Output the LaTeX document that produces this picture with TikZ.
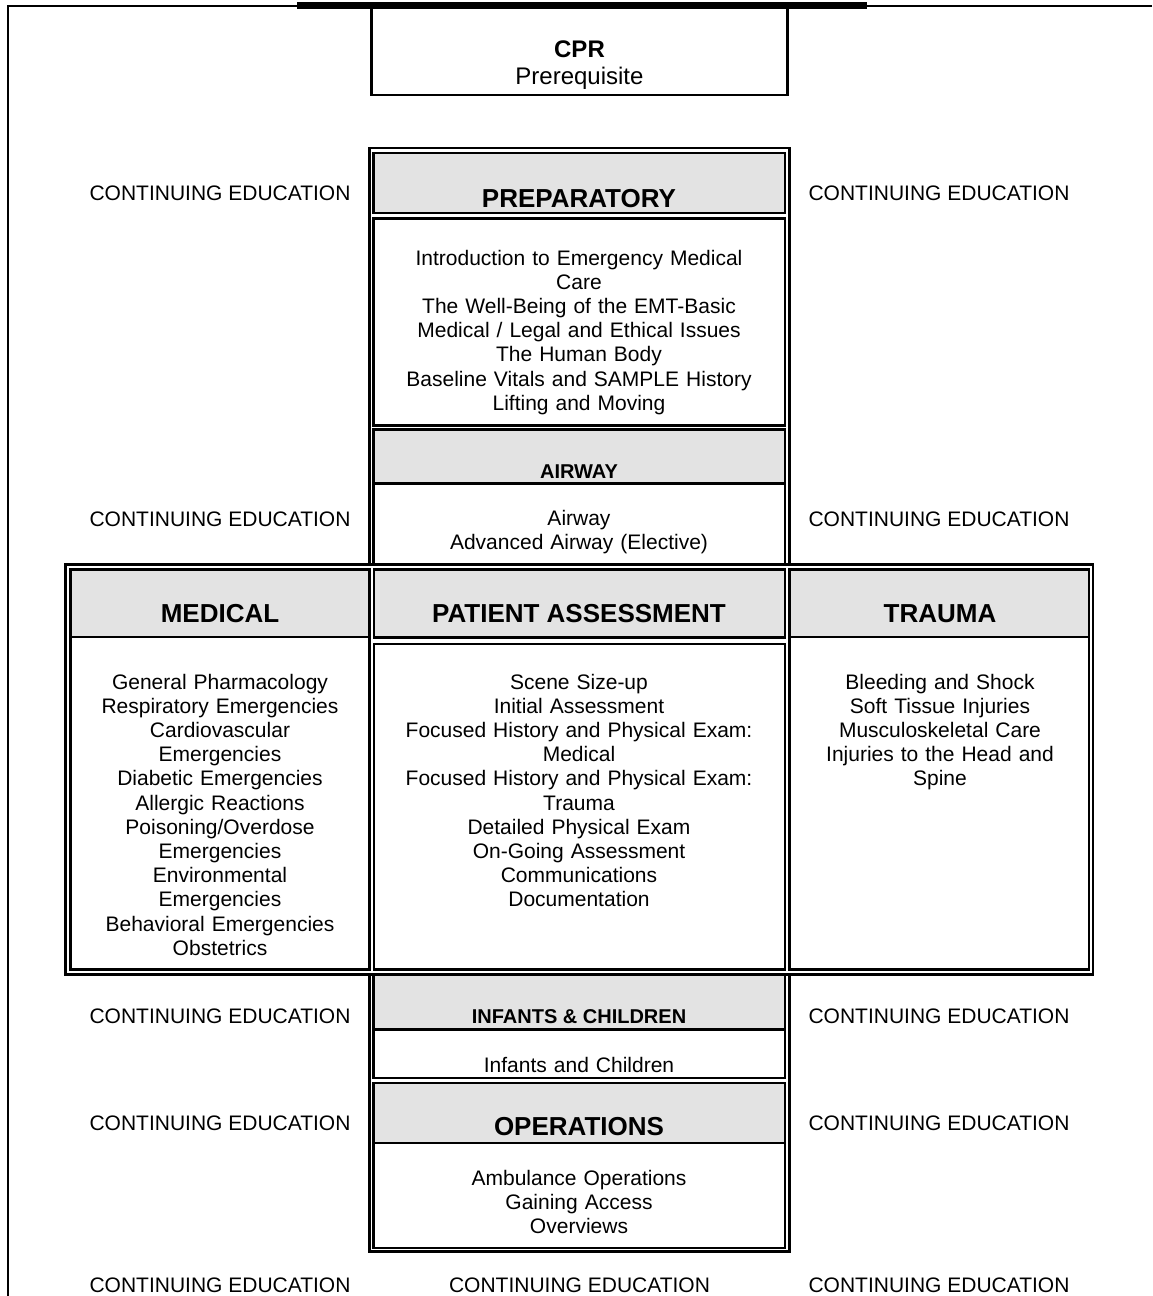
\documentclass[tikz,border=0pt]{standalone}
\usepackage{fontspec}
\setmainfont{Liberation Sans}
\definecolor{headgray}{RGB}{227,227,227}
\tikzset{
  frame/.style={draw=black,line width=1pt},
  cell/.style={draw=black,line width=1.3pt},
  head/.style={cell,fill=headgray},
  bigtitle/.style={anchor=base,inner sep=0pt,font=\fontsize{13}{15}\selectfont\bfseries},
  smalltitle/.style={anchor=base,inner sep=0pt,font=\fontsize{10}{12}\selectfont\bfseries},
  body/.style={text width=#1,align=center,anchor=base,inner sep=0pt,font=\fontsize{10.5}{12.1}\selectfont},
  body/.default=190pt,
  conted/.style={anchor=base,inner sep=0pt,font=\fontsize{10.5}{12.1}\selectfont}
}
\begin{document}
\begin{tikzpicture}[x=0.5pt,y=-0.5pt]
  \useasboundingbox (0,0) rectangle (1152,1296);

  % frame, bar and prerequisite box
  \draw[frame] (1152,6) -- (7.5,6) -- (7.5,1296);
  \fill (297,2) rectangle (867,9);
  \draw[cell] (371.5,6) -- (371.5,95) -- (787.5,95) -- (787.5,6);
  \node[body=150pt,font=\fontsize{12}{13.8}\selectfont] (cpr) at (579.5,57) {\textbf{CPR}\\Prerequisite};

  % outer double borders
  \draw[cell] (369.5,148) rectangle (789.5,564.5);
  \draw[cell] (65.5,564.5) rectangle (1093,974.5);
  \draw[cell] (369.5,974.5) rectangle (789.5,1251.5);

  % upper column
  \draw[head] (373.5,153) rectangle (785,213);
  \draw[cell] (373.5,218.5) rectangle (785,425.5);
  \draw[head] (373.5,429.5) rectangle (785,483.5);
  \draw[cell] (373.5,483.5) rectangle (785,564.5);

  % middle row
  \draw[head] (70.5,569.5) rectangle (369.5,637);
  \draw[cell] (70.5,637) rectangle (369.5,969.5);
  \draw[head] (374,569.5) rectangle (785,637.5);
  \draw[cell] (374,644) rectangle (785,969.5);
  \draw[head] (789.5,569.5) rectangle (1089,637);
  \draw[cell] (789.5,637) rectangle (1089,969.5);

  % lower column
  \draw[head] (373.5,974.5) rectangle (785,1029.5);
  \draw[cell] (373.5,1029.5) rectangle (785,1078);
  \draw[head] (373.5,1083) rectangle (785,1143);
  \draw[cell] (373.5,1143) rectangle (785,1248);

  % titles
  \node[bigtitle] (prep) at (579,207) {PREPARATORY};
  \node[smalltitle] (airway) at (579,478) {AIRWAY};
  \node[bigtitle] (medical) at (220,622.5) {MEDICAL};
  \node[bigtitle] (assess) at (579,622.5) {PATIENT ASSESSMENT};
  \node[bigtitle] (trauma) at (940,622.5) {TRAUMA};
  \node[smalltitle] (infants) at (579,1023) {INFANTS \& CHILDREN};
  \node[bigtitle] (ops) at (579,1135) {OPERATIONS};

  % topics
  \node[body] (preplist) at (579,265) {Introduction to Emergency Medical\\Care\\The Well-Being of the EMT-Basic\\Medical / Legal and Ethical Issues\\The Human Body\\Baseline Vitals and SAMPLE History\\Lifting and Moving};
  \node[body] (airwaylist) at (579,525) {Airway\\Advanced Airway (Elective)};
  \node[body=145pt] (medlist) at (220,689) {General Pharmacology\\Respiratory Emergencies\\Cardiovascular\\Emergencies\\Diabetic Emergencies\\Allergic Reactions\\Poisoning/Overdose\\Emergencies\\Environmental\\Emergencies\\Behavioral Emergencies\\Obstetrics};
  \node[body] (assesslist) at (579,689) {Scene Size-up\\Initial Assessment\\Focused History and Physical Exam:\\Medical\\Focused History and Physical Exam:\\Trauma\\Detailed Physical Exam\\On-Going Assessment\\Communications\\Documentation};
  \node[body=145pt] (traumalist) at (940,689) {Bleeding and Shock\\Soft Tissue Injuries\\Musculoskeletal Care\\Injuries to the Head and\\Spine};
  \node[body] (infantslist) at (579,1072) {Infants and Children};
  \node[body] (opslist) at (579,1185) {Ambulance Operations\\Gaining Access\\Overviews};

  % continuing education
  \foreach \yy/\nm in {200/a,526/b,1023/c,1130/d,1292/e}{
    \node[conted] (ce-l-\nm) at (220,\yy) {CONTINUING EDUCATION};
    \node[conted] (ce-r-\nm) at (939,\yy) {CONTINUING EDUCATION};
  }
  \node[conted] (ce-mid) at (579.5,1292) {CONTINUING EDUCATION};
\end{tikzpicture}
\end{document}
